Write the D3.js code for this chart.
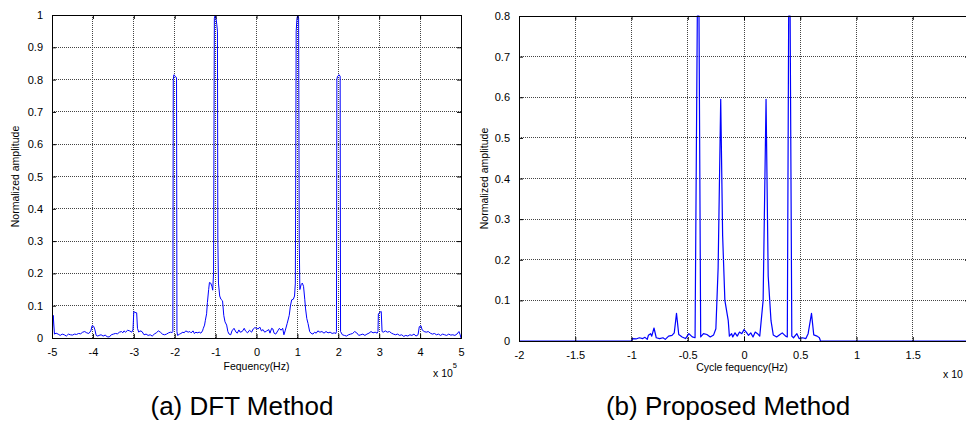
<!DOCTYPE html>
<html>
<head>
<meta charset="utf-8">
<script src="https://cdn.jsdelivr.net/npm/d3@7/dist/d3.min.js"></script>
<style>
  html, body { margin: 0; padding: 0; background: #fff; }
  svg { display: block; }
  text { font-family: "Liberation Sans", Arial, Helvetica, sans-serif; fill: #000; }
</style>
</head>
<body>
<svg id="fig" width="966" height="434"></svg>
<script>
// (a) DFT spectrum: frequency in units of 1e5 Hz, normalized amplitude
const dftFreq = [
  -5.00, -4.97, -4.94, -4.90, -4.85, -4.80, -4.75, -4.70, -4.65, -4.60, -4.55, -4.50, -4.45, -4.40, -4.35, -4.30,
  -4.25, -4.20, -4.15, -4.10, -4.05, -4.02, -3.98, -3.95, -3.92, -3.88, -3.85, -3.80, -3.75, -3.70, -3.65, -3.60,
  -3.55, -3.50, -3.45, -3.40, -3.35, -3.30, -3.27, -3.24, -3.20, -3.15, -3.10, -3.05, -3.02, -3.00, -2.97, -2.93,
  -2.91, -2.88, -2.85, -2.80, -2.75, -2.70, -2.65, -2.60, -2.55, -2.50, -2.45, -2.40, -2.35, -2.30, -2.25, -2.20,
  -2.15, -2.10, -2.06, -2.045, -2.035, -2.02, -1.98, -1.955, -1.945, -1.93, -1.88, -1.85, -1.80, -1.77, -1.73, -1.70,
  -1.67, -1.63, -1.60, -1.55, -1.52, -1.48, -1.45, -1.40, -1.36, -1.32, -1.30, -1.27, -1.25, -1.22, -1.20, -1.17,
  -1.15, -1.12, -1.09, -1.07, -1.05, -1.03, -1.01, -0.99, -0.97, -0.955, -0.945, -0.93, -0.90, -0.87, -0.83, -0.80,
  -0.77, -0.73, -0.70, -0.67, -0.63, -0.60, -0.55, -0.50, -0.47, -0.43, -0.40, -0.35, -0.30, -0.27, -0.22, -0.17,
  -0.12, -0.08, -0.04, 0.00, 0.04, 0.08, 0.12, 0.16, 0.20, 0.25, 0.30, 0.33, 0.37, 0.40, 0.43, 0.47,
  0.52, 0.56, 0.60, 0.64, 0.67, 0.70, 0.75, 0.80, 0.83, 0.86, 0.90, 0.93, 0.95, 0.97, 0.99, 1.01,
  1.03, 1.045, 1.06, 1.09, 1.12, 1.15, 1.18, 1.20, 1.23, 1.26, 1.30, 1.33, 1.38, 1.42, 1.46, 1.50,
  1.55, 1.60, 1.65, 1.70, 1.75, 1.80, 1.85, 1.90, 1.94, 1.955, 1.965, 1.98, 2.02, 2.045, 2.055, 2.10,
  2.15, 2.20, 2.25, 2.30, 2.35, 2.40, 2.45, 2.50, 2.55, 2.60, 2.65, 2.70, 2.75, 2.80, 2.85, 2.90,
  2.95, 2.97, 2.98, 3.02, 3.05, 3.07, 3.10, 3.15, 3.20, 3.25, 3.30, 3.35, 3.40, 3.45, 3.50, 3.55,
  3.60, 3.65, 3.70, 3.75, 3.80, 3.85, 3.90, 3.95, 3.98, 4.02, 4.05, 4.10, 4.15, 4.20, 4.25, 4.30,
  4.35, 4.40, 4.45, 4.50, 4.55, 4.60, 4.65, 4.70, 4.75, 4.80, 4.85, 4.90, 4.95, 4.98, 5.00
];
const dftAmp = [
  0.000, 0.070, 0.012, 0.015, 0.012, 0.008, 0.012, 0.010, 0.006, 0.012, 0.010, 0.009, 0.012, 0.011, 0.014, 0.013,
  0.018, 0.020, 0.016, 0.014, 0.022, 0.038, 0.036, 0.025, 0.008, 0.006, 0.008, 0.010, 0.006, 0.009, 0.004, 0.003,
  0.010, 0.012, 0.014, 0.013, 0.018, 0.020, 0.016, 0.022, 0.018, 0.024, 0.022, 0.018, 0.025, 0.082, 0.079, 0.078,
  0.030, 0.018, 0.022, 0.020, 0.010, 0.012, 0.008, 0.010, 0.006, 0.012, 0.016, 0.022, 0.018, 0.012, 0.010, 0.012,
  0.016, 0.018, 0.017, 0.020, 0.800, 0.815, 0.810, 0.805, 0.020, 0.008, 0.012, 0.014, 0.018, 0.016, 0.022, 0.020,
  0.018, 0.020, 0.016, 0.022, 0.014, 0.018, 0.016, 0.018, 0.015, 0.022, 0.030, 0.040, 0.055, 0.075, 0.110, 0.150,
  0.172, 0.170, 0.160, 0.148, 0.200, 0.990, 1.000, 0.990, 0.970, 0.950, 0.300, 0.170, 0.130, 0.120, 0.115, 0.070,
  0.050, 0.040, 0.020, 0.012, 0.010, 0.022, 0.030, 0.018, 0.015, 0.025, 0.018, 0.020, 0.030, 0.022, 0.016, 0.024,
  0.018, 0.028, 0.032, 0.030, 0.028, 0.034, 0.022, 0.026, 0.018, 0.022, 0.026, 0.015, 0.030, 0.028, 0.015, 0.012,
  0.022, 0.030, 0.024, 0.030, 0.010, 0.022, 0.045, 0.070, 0.100, 0.118, 0.120, 0.130, 0.170, 0.950, 0.990, 1.000,
  0.990, 0.300, 0.150, 0.165, 0.170, 0.160, 0.120, 0.090, 0.060, 0.045, 0.020, 0.015, 0.012, 0.018, 0.015, 0.022,
  0.018, 0.020, 0.015, 0.020, 0.016, 0.018, 0.014, 0.016, 0.014, 0.020, 0.800, 0.810, 0.815, 0.810, 0.020, 0.010,
  0.008, 0.006, 0.010, 0.012, 0.014, 0.020, 0.016, 0.008, 0.010, 0.012, 0.008, 0.012, 0.015, 0.020, 0.016, 0.018,
  0.015, 0.020, 0.075, 0.080, 0.082, 0.020, 0.018, 0.022, 0.018, 0.020, 0.015, 0.012, 0.010, 0.012, 0.008, 0.010,
  0.005, 0.008, 0.006, 0.010, 0.008, 0.012, 0.006, 0.010, 0.035, 0.038, 0.025, 0.020, 0.018, 0.020, 0.015, 0.012,
  0.014, 0.010, 0.012, 0.008, 0.012, 0.010, 0.008, 0.012, 0.009, 0.010, 0.008, 0.012, 0.020, 0.010, 0.000
];

// (b) Proposed method: cycle frequency in units of 1e6 Hz, normalized amplitude
const cycFreq = [
  -2.00, -1.00, -0.99, -0.96, -0.93, -0.90, -0.88, -0.86, -0.85, -0.83, -0.82, -0.80, -0.78, -0.75, -0.72, -0.70,
  -0.67, -0.64, -0.62, -0.60, -0.58, -0.55, -0.52, -0.49, -0.46, -0.435, -0.415, -0.40, -0.385, -0.36, -0.33, -0.30,
  -0.27, -0.25, -0.23, -0.207, -0.19, -0.17, -0.14, -0.13, -0.11, -0.10, -0.08, -0.06, -0.04, -0.02, 0.00, 0.02,
  0.04, 0.06, 0.08, 0.10, 0.12, 0.14, 0.17, 0.196, 0.215, 0.24, 0.26, 0.29, 0.32, 0.34, 0.37, 0.385,
  0.397, 0.41, 0.425, 0.44, 0.47, 0.49, 0.52, 0.55, 0.57, 0.60, 0.62, 0.65, 0.67, 0.68, 2.00
];
const cycAmp = [
  0.000, 0.000, 0.006, 0.005, 0.008, 0.006, 0.009, 0.004, 0.014, 0.018, 0.012, 0.032, 0.008, 0.006, 0.008, 0.004,
  0.012, 0.014, 0.020, 0.068, 0.016, 0.010, 0.006, 0.018, 0.010, 0.008, 0.800, 0.800, 0.010, 0.018, 0.016, 0.010,
  0.015, 0.030, 0.180, 0.595, 0.260, 0.100, 0.050, 0.012, 0.018, 0.010, 0.020, 0.012, 0.022, 0.018, 0.028, 0.022,
  0.014, 0.020, 0.010, 0.022, 0.018, 0.012, 0.100, 0.595, 0.160, 0.050, 0.015, 0.010, 0.016, 0.020, 0.012, 0.010,
  0.800, 0.800, 0.012, 0.008, 0.018, 0.006, 0.008, 0.006, 0.018, 0.068, 0.015, 0.012, 0.008, 0.000, 0.000
];

const dftXTicks = [-5, -4, -3, -2, -1, 0, 1, 2, 3, 4, 5];
const dftYTicks = [0, 0.1, 0.2, 0.3, 0.4, 0.5, 0.6, 0.7, 0.8, 0.9, 1];
const cycXTicks = [-2, -1.5, -1, -0.5, 0, 0.5, 1, 1.5, 2];
const cycYTicks = [0, 0.1, 0.2, 0.3, 0.4, 0.5, 0.6, 0.7, 0.8];

const WIDTH = 966;
const svg = d3.select("#fig");

function drawPanel(cfg) {
  const x = d3.scaleLinear().domain(cfg.xDomain).range([cfg.left, cfg.right]);
  const y = d3.scaleLinear().domain(cfg.yDomain).range([cfg.bottom, cfg.top]);
  const g = svg.append("g");
  const clipId = "clip-" + cfg.id;

  g.append("clipPath").attr("id", clipId)
    .append("rect")
    .attr("x", cfg.left).attr("y", cfg.top - 1)
    .attr("width", cfg.right - cfg.left).attr("height", cfg.bottom - cfg.top + 2);

  // dotted grid
  const grid = g.append("g").attr("stroke", "#444").attr("stroke-width", 1)
    .attr("stroke-dasharray", "1,1").attr("shape-rendering", "crispEdges");
  grid.selectAll("line.v").data(cfg.xTicks).join("line")
    .attr("x1", d => x(d)).attr("x2", d => x(d))
    .attr("y1", cfg.top).attr("y2", cfg.bottom);
  grid.selectAll("line.h").data(cfg.yTicks).join("line")
    .attr("x1", cfg.left).attr("x2", cfg.right)
    .attr("y1", d => y(d)).attr("y2", d => y(d));

  // spectrum trace
  const line = d3.line().x(d => x(d[0])).y(d => y(d[1]));
  g.append("path")
    .datum(d3.zip(cfg.xs, cfg.ys))
    .attr("clip-path", `url(#${clipId})`)
    .attr("fill", "none").attr("stroke", "#0000ff").attr("stroke-width", cfg.lineWidth)
    .attr("stroke-linejoin", "round")
    .attr("d", line);

  // axes with inward ticks on all four sides; labels only where they fit on the page
  const tick = 4;
  const fmtX = d => (x(d) + 6 <= WIDTH ? String(d) : "");
  const axB = d3.axisBottom(x).tickValues(cfg.xTicks).tickSize(-tick).tickPadding(6 + tick).tickFormat(fmtX);
  const axT = d3.axisTop(x).tickValues(cfg.xTicks).tickSize(-tick).tickFormat("");
  const axL = d3.axisLeft(y).tickValues(cfg.yTicks).tickSize(-tick).tickPadding(5 + tick).tickFormat(d => String(d));
  const axR = d3.axisRight(y).tickValues(cfg.yTicks).tickSize(-tick).tickFormat("");

  const style = sel => {
    sel.select(".domain").attr("stroke", "#000").attr("stroke-width", 1);
    sel.selectAll(".tick line").attr("stroke", "#000");
    sel.selectAll("text").attr("font-size", 11).attr("font-family", '"Liberation Sans", Arial, sans-serif');
  };
  g.append("g").attr("transform", `translate(0,${cfg.bottom})`).call(axB).call(style);
  g.append("g").attr("transform", `translate(0,${cfg.top})`).call(axT).call(style);
  g.append("g").attr("transform", `translate(${cfg.left},0)`).call(axL).call(style);
  g.append("g").attr("transform", `translate(${cfg.right},0)`).call(axR).call(style);

  // axis titles
  g.append("text")
    .attr("x", (Math.min(cfg.right, WIDTH + 10) + cfg.left) / 2 + cfg.xTitleShift).attr("y", cfg.xTitleY)
    .attr("text-anchor", "middle").attr("font-size", 10.5)
    .text(cfg.xTitle);
  g.append("text")
    .attr("transform", `translate(${cfg.yTitleX},${(cfg.top + cfg.bottom) / 2}) rotate(-90)`)
    .attr("text-anchor", "middle").attr("font-size", 10.5)
    .text("Normalized amplitude");

  // exponent note
  const ex = g.append("text").attr("x", cfg.expX).attr("y", cfg.xTitleY + 7).attr("font-size", 10.5);
  ex.append("tspan").text("x 10");
  if (cfg.exp) ex.append("tspan").attr("font-size", 7.5).attr("dy", -9).text(cfg.exp);

  // caption
  svg.append("text")
    .attr("x", cfg.capX).attr("y", 415)
    .attr("text-anchor", "middle").attr("font-size", 26)
    .text(cfg.caption);
}

drawPanel({
  id: "a", xs: dftFreq, ys: dftAmp, xDomain: [-5, 5], yDomain: [0, 1],
  xTicks: dftXTicks, yTicks: dftYTicks,
  left: 52, right: 461, top: 15, bottom: 338, lineWidth: 1,
  xTitle: "Fequency(Hz)", xTitleShift: 0, xTitleY: 370, yTitleX: 19,
  expX: 433, exp: "5", caption: "(a) DFT Method", capX: 242
});

drawPanel({
  id: "b", xs: cycFreq, ys: cycAmp, xDomain: [-2, 2], yDomain: [0, 0.8],
  xTicks: cycXTicks, yTicks: cycYTicks,
  left: 519, right: 969, top: 16, bottom: 341, lineWidth: 1.2,
  xTitle: "Cycle fequency(Hz)", xTitleShift: -2, xTitleY: 371, yTitleX: 488,
  expX: 943, exp: null, caption: "(b) Proposed Method", capX: 728
});
</script>
</body>
</html>
